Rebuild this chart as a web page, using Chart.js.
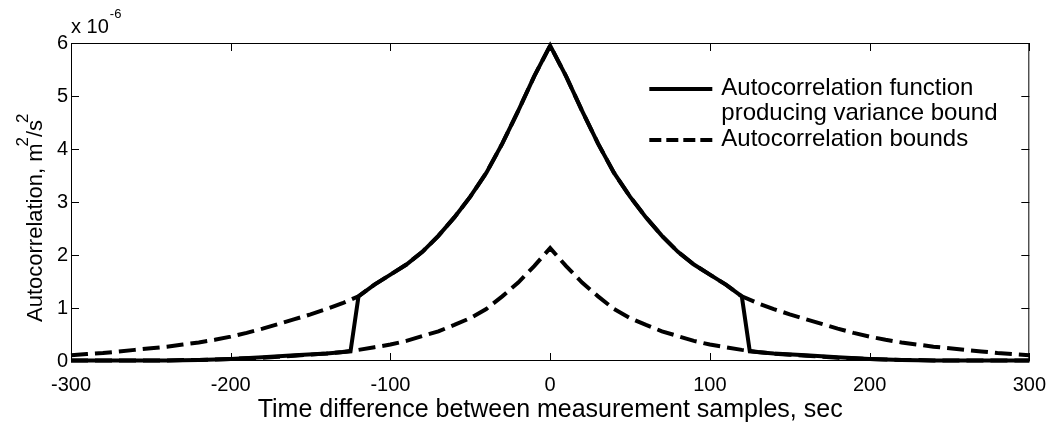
<!DOCTYPE html>
<html>
<head>
<meta charset="utf-8">
<title>Autocorrelation</title>
<script src="https://cdn.jsdelivr.net/npm/chart.js@4.4.1/dist/chart.umd.min.js"></script>
<style>
    html, body { margin: 0; padding: 0; background: #fff; }
    #wrap { width: 1058px; height: 429px; }
</style>
</head>
<body>
<div id="wrap"><canvas id="acfChart"></canvas></div>
<script>
// Time lags (sec) for the two bound curves
const boundTimes = [
    -300, -290, -280, -270, -260, -250, -240, -230, -220, -210,
    -200, -190, -180, -170, -160, -150, -140, -130, -120, -110,
    -100, -90, -80, -70, -60, -50, -40, -30, -20, -10,
    0, 10, 20, 30, 40, 50, 60, 70, 80, 90,
    100, 110, 120, 130, 140, 150, 160, 170, 180, 190,
    200, 210, 220, 230, 240, 250, 260, 270, 280, 290, 300
];

// Upper autocorrelation bound (x 1e-6 m^2/s^2)
const upperBound = [
    0.11, 0.13, 0.15, 0.18, 0.21, 0.24, 0.27, 0.31, 0.35, 0.40,
    0.46, 0.53, 0.61, 0.70, 0.79, 0.88, 0.98, 1.09, 1.22, 1.44,
    1.63, 1.82, 2.06, 2.36, 2.71, 3.10, 3.55, 4.10, 4.72, 5.37,
    5.95, 5.37, 4.72, 4.10, 3.55, 3.10, 2.71, 2.36, 2.06, 1.82,
    1.63, 1.44, 1.22, 1.09, 0.98, 0.88, 0.79, 0.70, 0.61, 0.53,
    0.46, 0.40, 0.35, 0.31, 0.27, 0.24, 0.21, 0.18, 0.15, 0.13, 0.11
];

// Lower autocorrelation bound (x 1e-6 m^2/s^2)
const lowerBound = [
    0.01, 0.01, 0.01, 0.01, 0.01, 0.01, 0.01, 0.02, 0.02, 0.03,
    0.04, 0.05, 0.06, 0.08, 0.10, 0.12, 0.14, 0.17, 0.21, 0.26,
    0.31, 0.38, 0.47, 0.56, 0.68, 0.81, 0.98, 1.22, 1.48, 1.79,
    2.13, 1.79, 1.48, 1.22, 0.98, 0.81, 0.68, 0.56, 0.47, 0.38,
    0.31, 0.26, 0.21, 0.17, 0.14, 0.12, 0.10, 0.08, 0.06, 0.05,
    0.04, 0.03, 0.02, 0.02, 0.01, 0.01, 0.01, 0.01, 0.01, 0.01, 0.01
];

// Autocorrelation function producing the variance bound
const acfTimes = [
    -300, -240, -220, -200, -180, -160, -140, -125, -120, -110,
    -100, -90, -80, -70, -60, -50, -40, -30, -20, -10,
    0, 10, 20, 30, 40, 50, 60, 70, 80, 90,
    100, 110, 120, 125, 140, 160, 180, 200, 220, 240, 300
];
const acfValues = [
    0.01, 0.01, 0.02, 0.04, 0.07, 0.11, 0.14, 0.18, 1.22, 1.44,
    1.63, 1.82, 2.06, 2.36, 2.71, 3.10, 3.55, 4.10, 4.72, 5.37,
    5.95, 5.37, 4.72, 4.10, 3.55, 3.10, 2.71, 2.36, 2.06, 1.82,
    1.63, 1.44, 1.22, 0.18, 0.14, 0.11, 0.07, 0.04, 0.02, 0.01, 0.01
];

const xTicks = [-300, -200, -100, 0, 100, 200, 300];
const yTicks = [0, 1, 2, 3, 4, 5, 6];
const yExponent = '-6';
// y label pieces: [text, superscript?]
const yLabelParts = [['Autocorrelation, m', false], ['2', true], ['/s', false], ['2', true]];

const FONT = '"Liberation Sans", Arial, Helvetica, sans-serif';

function toPoints(xs, ys) {
    return xs.map((x, i) => ({ x: x, y: ys[i] }));
}

// Box, inward tick marks, exponent note and the rotated y label
const axesBox = {
    id: 'axesBox',
    beforeDatasetsDraw(chart) {
        const { ctx, chartArea: a, scales } = chart;
        const tick = 8;
        ctx.save();
        ctx.strokeStyle = '#000';
        ctx.lineWidth = 1;
        ctx.beginPath();
        ctx.rect(a.left + 0.5, a.top + 0.5, a.right - a.left - 1, a.bottom - a.top - 1);
        xTicks.forEach(v => {
            const px = Math.round(scales.x.getPixelForValue(v)) + 0.5;
            ctx.moveTo(px, a.bottom); ctx.lineTo(px, a.bottom - tick);
            ctx.moveTo(px, a.top); ctx.lineTo(px, a.top + tick);
        });
        yTicks.forEach(v => {
            const py = Math.round(scales.y.getPixelForValue(v)) + 0.5;
            ctx.moveTo(a.left, py); ctx.lineTo(a.left + tick, py);
            ctx.moveTo(a.right, py); ctx.lineTo(a.right - tick, py);
        });
        ctx.stroke();

        ctx.fillStyle = '#000';
        ctx.textBaseline = 'alphabetic';
        ctx.textAlign = 'left';
        ctx.font = '20px ' + FONT;
        const base = 'x 10';
        ctx.fillText(base, a.left, a.top - 10);
        const w = ctx.measureText(base).width;
        ctx.font = '13px ' + FONT;
        ctx.fillText(yExponent, a.left + w + 1, a.top - 25);

        // y axis label, read bottom to top
        ctx.translate(42, a.bottom - 39);
        ctx.rotate(-Math.PI / 2);
        let x = 0;
        yLabelParts.forEach(([t, sup]) => {
            ctx.font = (sup ? '17px ' : '22px ') + FONT;
            if (sup) x -= 3;
            ctx.fillText(t, x, sup ? -14 : 0);
            x += ctx.measureText(t).width;
        });
        ctx.restore();
    }
};

// Legend drawn inside the plot, top right, without a frame
const inlineLegend = {
    id: 'inlineLegend',
    afterDatasetsDraw(chart) {
        const { ctx, chartArea: a } = chart;
        const x0 = a.right - 380;
        const sampleLen = 63;
        const textX = x0 + sampleLen + 9;
        const lineGap = 25;
        let y = a.top + 45;
        ctx.save();
        ctx.font = '24px ' + FONT;
        ctx.fillStyle = '#000';
        ctx.textAlign = 'left';
        ctx.textBaseline = 'middle';
        chart.data.datasets.forEach(ds => {
            if (ds.hideInLegend) return;
            const lines = Array.isArray(ds.label) ? ds.label : [ds.label];
            ctx.strokeStyle = ds.borderColor;
            ctx.lineWidth = ds.borderWidth;
            ctx.setLineDash(ds.legendDash || []);
            ctx.beginPath();
            ctx.moveTo(x0, y + 1);
            ctx.lineTo(x0 + sampleLen, y + 1);
            ctx.stroke();
            lines.forEach((t, i) => ctx.fillText(t, textX, y + i * lineGap));
            y += lines.length * lineGap + 1;
        });
        ctx.restore();
    }
};

new Chart(document.getElementById('acfChart'), {
    type: 'line',
    data: {
        datasets: [
            {
                label: ['Autocorrelation function', 'producing variance bound'],
                data: toPoints(acfTimes, acfValues),
                borderColor: '#000',
                borderWidth: 4,
                legendDash: []
            },
            {
                label: 'Autocorrelation bounds',
                data: toPoints(boundTimes, upperBound),
                borderColor: '#000',
                borderWidth: 4,
                borderDash: [17, 7],
                legendDash: [12, 5]
            },
            {
                label: 'Autocorrelation bounds',
                data: toPoints(boundTimes, lowerBound),
                borderColor: '#000',
                borderWidth: 4,
                borderDash: [17, 7],
                hideInLegend: true
            }
        ]
    },
    options: {
        responsive: true,
        maintainAspectRatio: false,
        animation: false,
        devicePixelRatio: 1,
        layout: { padding: { top: 43, right: 23, left: 0, bottom: 0 } },
        elements: {
            line: { tension: 0, fill: false },
            point: { radius: 0, hoverRadius: 0 }
        },
        datasets: { line: { clip: false } },
        plugins: {
            legend: { display: false },
            tooltip: { enabled: false }
        },
        scales: {
            x: {
                type: 'linear',
                min: -300,
                max: 300,
                afterFit: s => { s.height = 68; },
                afterBuildTicks: s => { s.ticks = xTicks.map(v => ({ value: v })); },
                grid: { display: false, drawTicks: false },
                border: { display: false },
                ticks: {
                    color: '#000',
                    padding: 12,
                    maxRotation: 0,
                    font: { family: FONT, size: 20 }
                },
                title: {
                    display: true,
                    text: 'Time difference between measurement samples, sec',
                    color: '#000',
                    font: { family: FONT, size: 25 },
                    padding: { top: 0, bottom: 4 }
                }
            },
            y: {
                min: 0,
                max: 6,
                afterFit: s => { s.width = 71; },
                afterBuildTicks: s => { s.ticks = yTicks.map(v => ({ value: v })); },
                grid: { display: false, drawTicks: false },
                border: { display: false },
                ticks: {
                    color: '#000',
                    padding: 3,
                    font: { family: FONT, size: 20 }
                },
                title: { display: false }
            }
        }
    },
    plugins: [axesBox, inlineLegend]
});
</script>
</body>
</html>
